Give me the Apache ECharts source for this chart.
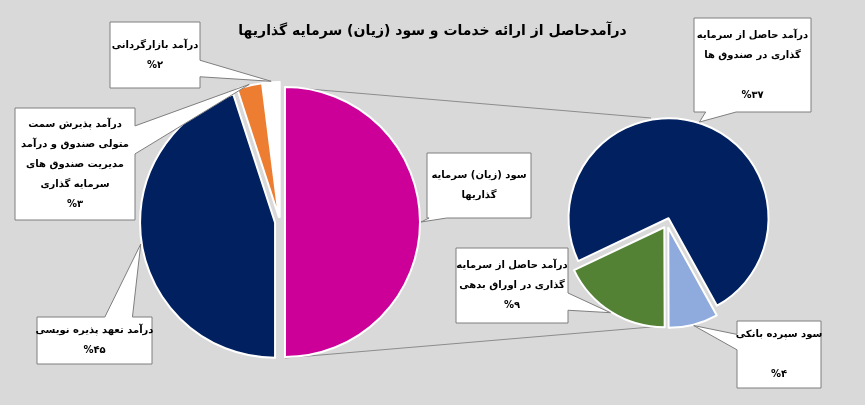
<!DOCTYPE html>
<html><head><meta charset="utf-8">
<script src="https://cdn.jsdelivr.net/npm/echarts@6/dist/echarts.min.js"></script>
<style>html,body{margin:0;padding:0;background:#d9d9d9}#c{width:865px;height:405px}</style>
</head><body><div id="c"></div>
<script>
// ---- data ----
const title = 'درآمدحاصل از ارائه خدمات و سود (زیان) سرمایه گذاریها';
const mainCategories = ['سود (زیان) سرمایه\nگذاریها', 'درآمد تعهد پذیره نویسی', 'درآمد پذیرش سمت\nمتولی صندوق و درآمد\nمدیریت صندوق های\nسرمایه گذاری', 'درآمد بازارگردانی'];
const mainValues = [50, 45, 3, 2];
const mainPctLabels = ['', '%۴۵', '%۳', '%۲'];
const subCategories = ['سود سپرده بانکی', 'درآمد حاصل از سرمایه\nگذاری در اوراق بدهی', 'درآمد حاصل از سرمایه\nگذاری در صندوق ها'];
const subValues = [4, 9, 37];
const subPctLabels = ['\n%۴', '%۹', '\n%۳۷'];

// ---- layout / style ----
const mainColors = ['#cc0099', '#002060', '#ed7d31', '#ffffff'];
const subColors = ['#8faadc', '#548235', '#002060'];
// callout boxes: [left, top, width, height, wedgeSide, wedgeFrom, wedgeTo]
const mainBoxes = [[427,153,104,65,'bottom',0.02,0.19],[37,317,115,47,'top',0.59,0.83],[15,108,120,112,'right',0.16,0.41],[110,22,90,66,'right',0.58,0.83]];
const subBoxes = [[737,321,84,67,'left',0.2,0.43],[456,248,112,75,'right',0.6,0.83],[694,18,117,94,'bottom',0.1,0.36]];
const L = {cx:280, cy:222, r:135, start:0}, R = {cx:667, cy:223, r:100, start:151}, OFF = 5, LH = 20;
const FONT = '"DejaVu Sans", sans-serif';

function tips(pie, vals){
  const tot = vals.reduce((a,b)=>a+b,0); let acc = 0;
  return vals.map(v=>{
    const mid = (pie.start + (acc + v/2)/tot*360) * Math.PI/180; acc += v;
    const rr = pie.r + OFF + 1;
    return [pie.cx + rr*Math.sin(mid), pie.cy - rr*Math.cos(mid)];
  });
}
function callout(box, tip, text){
  const [x0,y0,w,h,side,f0,f1] = box, x1=x0+w, y1=y0+h;
  const pts = [[x0,y0]];
  if (side==='top') pts.push([x0+w*f0,y0], tip, [x0+w*f1,y0]);
  pts.push([x1,y0]);
  if (side==='right') pts.push([x1,y0+h*f0], tip, [x1,y0+h*f1]);
  pts.push([x1,y1]);
  if (side==='bottom') pts.push([x0+w*f1,y1], tip, [x0+w*f0,y1]);
  pts.push([x0,y1]);
  if (side==='left') pts.push([x0,y0+h*f1], tip, [x0,y0+h*f0]);
  return [
    {type:'polygon', z:10, shape:{points:pts}, style:{fill:'#fff', stroke:'#7f7f7f', lineWidth:1}},
    {type:'text', z:11, x:x0+w/2, y:y0+h/2, style:{text:text, align:'center', verticalAlign:'middle',
      font:'bold 10px ' + FONT, lineHeight:LH, fill:'#000'}}
  ];
}
function callouts(cats, pcts, boxes, pie, vals){
  const t = tips(pie, vals); let out = [];
  cats.forEach((c,i)=>{ out = out.concat(callout(boxes[i], t[i], pcts[i] ? c + '\n' + pcts[i] : c)); });
  return out;
}
function makeData(cats, vals, colors){
  return cats.map((c,i)=>({name:c, value:vals[i], selected:true, itemStyle:{color:colors[i]}}));
}
const common = {type:'pie', clockwise:true, selectedMode:'multiple', selectedOffset:OFF, animation:false,
  itemStyle:{borderColor:'#fff', borderWidth:2}, label:{show:false}, labelLine:{show:false},
  emphasis:{disabled:true}, silent:true};

const chart = echarts.init(document.getElementById('c'), null, {renderer:'canvas'});
chart.setOption({
  backgroundColor:'#d9d9d9',
  title:{text:title, left:'center', top:19, textStyle:{fontFamily:FONT, fontWeight:'bold', fontSize:14, color:'#000'}},
  graphic:[
    {type:'line', z:0, shape:{x1:L.cx+OFF, y1:L.cy-L.r, x2:R.cx-16, y2:R.cy-R.r-5}, style:{stroke:'#8c8c8c', lineWidth:1}},
    {type:'line', z:0, shape:{x1:L.cx+OFF, y1:L.cy+L.r+1, x2:R.cx-4, y2:R.cy+R.r+3}, style:{stroke:'#8c8c8c', lineWidth:1}}
  ].concat(callouts(mainCategories, mainPctLabels, mainBoxes, L, mainValues))
   .concat(callouts(subCategories, subPctLabels, subBoxes, R, subValues)),
  series:[
    Object.assign({}, common, {center:[L.cx,L.cy], radius:L.r, startAngle:90 - L.start,
      data:makeData(mainCategories, mainValues, mainColors)}),
    Object.assign({}, common, {center:[R.cx,R.cy], radius:R.r, startAngle:90 - R.start,
      data:makeData(subCategories, subValues, subColors)})
  ]
});
</script></body></html>
